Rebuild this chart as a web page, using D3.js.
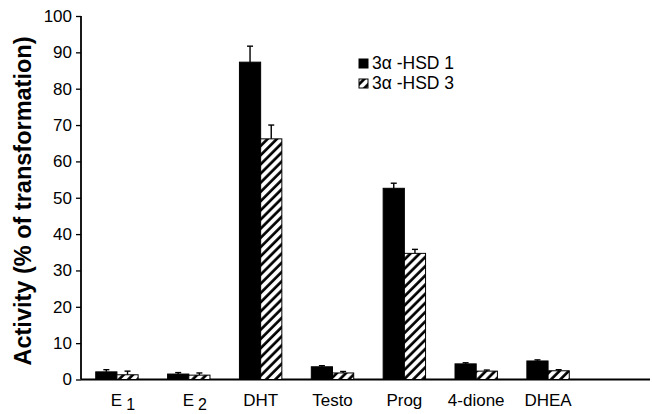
<!DOCTYPE html>
<html><head><meta charset="utf-8">
<script src="https://cdn.jsdelivr.net/npm/d3@7"></script>
<style>body{margin:0;background:#fff}svg{display:block}</style>
</head><body>
<svg id="c" width="652" height="414"></svg>
<script>
const categories = ["E1","E2","DHT","Testo","Prog","4-dione","DHEA"];
const labelMain = ["E","E","DHT","Testo","Prog","4-dione","DHEA"];
const labelSub = ["1","2","","","","",""];
const series = ["3α -HSD 1","3α -HSD 3"];
const hsd1 = [2.1, 1.5, 87.3, 3.5, 52.6, 4.3, 5.1];
const hsd1Err = [0.6, 0.4, 4.4, 0.3, 1.4, 0.3, 0.3];
const hsd3 = [1.3, 1.2, 66.2, 1.8, 34.7, 2.3, 2.4];
const hsd3Err = [1.0, 0.6, 3.8, 0.4, 1.1, 0.3, 0.3];
const yTicks = [0,10,20,30,40,50,60,70,80,90,100];

const svg = d3.select("#c");
const defs = svg.append("defs");
const pat = defs.append("pattern").attr("id","hatch").attr("patternUnits","userSpaceOnUse")
  .attr("width",6.5).attr("height",6.5).attr("patternTransform","rotate(45)");
pat.append("rect").attr("width",6.5).attr("height",6.5).attr("fill","#fff");
pat.append("line").attr("x1",1.5).attr("y1",0).attr("x2",1.5).attr("y2",6.5).attr("stroke","#000").attr("stroke-width",2.7);

const x = d3.scaleBand().domain(categories).range([81,584]).paddingInner(0.41).paddingOuter(0.205);
const xs = d3.scaleBand().domain([0,1]).range([0,x.bandwidth()]);
const y = d3.scaleLinear().domain([0,100]).range([379.5,16]);

const font = "'Liberation Sans', Arial, Helvetica, sans-serif";

// y axis
const ya = svg.append("g").attr("transform","translate(81,0)")
  .call(d3.axisLeft(y).tickValues(yTicks).tickSize(5).tickPadding(4));
ya.select(".domain").remove();
ya.selectAll("line").attr("stroke","#000").attr("stroke-width",1.3);
ya.selectAll("text").attr("font-family",font).attr("font-size",17).attr("fill","#000");
svg.append("line").attr("x1",81).attr("x2",81).attr("y1",y(100)).attr("y2",y(0)).attr("stroke","#000").attr("stroke-width",1.8);
svg.append("line").attr("x1",81).attr("x2",650).attr("y1",y(0)).attr("y2",y(0)).attr("stroke","#000").attr("stroke-width",1.8);

// bars
const vals = [hsd1, hsd3], errs = [hsd1Err, hsd3Err];
vals.forEach((arr, s) => {
  const g = svg.append("g");
  g.selectAll("rect").data(categories).join("rect")
    .attr("x", (c) => x(c) + xs(s))
    .attr("y", (c,i) => y(arr[i]))
    .attr("width", xs.bandwidth())
    .attr("height", (c,i) => y(0) - y(arr[i]))
    .attr("fill", s===0 ? "#000" : "url(#hatch)")
    .attr("stroke","#000").attr("stroke-width",1);
  const e = svg.append("g").attr("stroke","#000").attr("stroke-width",1.4);
  categories.forEach((c,i) => {
    const cx = x(c) + xs(s) + xs.bandwidth()/2;
    e.append("line").attr("x1",cx).attr("x2",cx).attr("y1",y(arr[i])).attr("y2",y(arr[i]+errs[s][i]));
    e.append("line").attr("x1",cx-3).attr("x2",cx+3).attr("y1",y(arr[i]+errs[s][i])).attr("y2",y(arr[i]+errs[s][i]));
  });
});

// x labels
categories.forEach((c,i) => {
  const t = svg.append("text").attr("x", x(c)+x.bandwidth()/2 + (labelSub[i]?6:0)).attr("y",406)
    .attr("text-anchor","middle").attr("font-family",font).attr("font-size",17).attr("fill","#000");
  t.append("tspan").text(labelMain[i]);
  if (labelSub[i]) t.append("tspan").attr("dx",4).attr("dy",4).attr("font-size",16).text(labelSub[i]);
});

// y title
svg.append("text").attr("transform","translate(31,201) rotate(-90)").attr("text-anchor","middle")
  .attr("font-family",font).attr("font-weight","bold").attr("font-size",23.5).attr("fill","#000")
  .text("Activity (% of transformation)");

// legend
series.forEach((s,i) => {
  const ly = 59 + i*20;
  svg.append("rect").attr("x",359).attr("y",ly).attr("width",9).attr("height",9)
    .attr("fill", i===0 ? "#000" : "url(#hatch)").attr("stroke","#000").attr("stroke-width",1);
  svg.append("text").attr("x",372).attr("y",ly+10).attr("font-family",font).attr("font-size",17.5).attr("fill","#000").text(s);
});
</script>
</body></html>
